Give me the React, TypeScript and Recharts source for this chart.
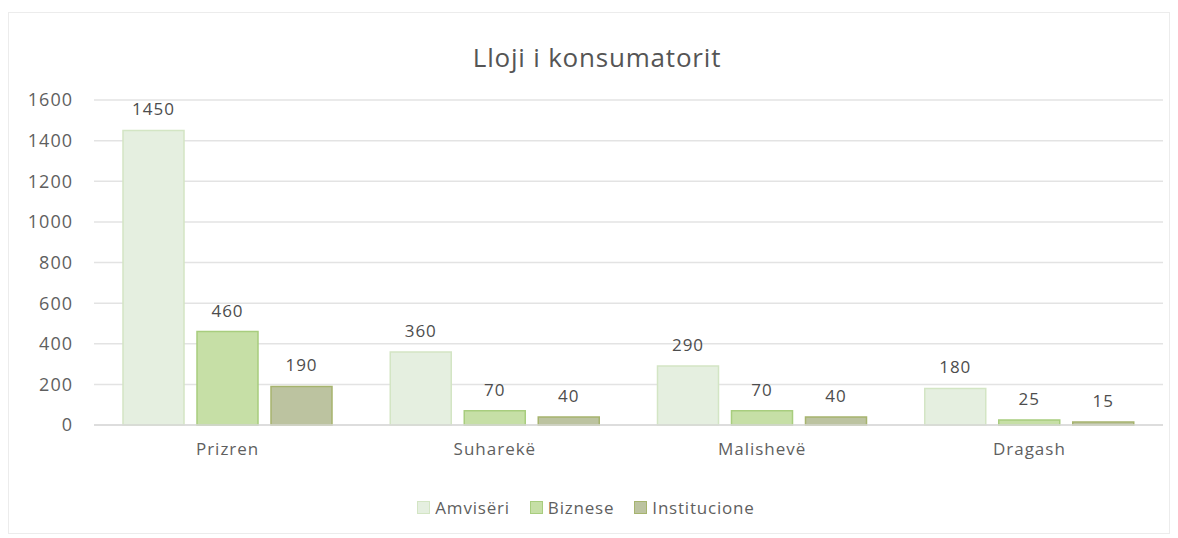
import React from "react";
import { Bar, BarChart, CartesianGrid, LabelList, Legend, XAxis, YAxis } from "recharts";

const cities = ["Prizren", "Suharekë", "Malishevë", "Dragash"];
const amviseri = [1450, 360, 290, 180];
const biznese = [460, 70, 70, 25];
const institucione = [190, 40, 40, 15];
const yTicks = [0, 200, 400, 600, 800, 1000, 1200, 1400, 1600];

const series = [
  { key: "amviseri", name: "Amvisëri", fill: "#e5efe0", stroke: "#d3e5c4" },
  { key: "biznese", name: "Biznese", fill: "#c6dfa6", stroke: "#a8cd7e" },
  { key: "institucione", name: "Institucione", fill: "#bcc3a0", stroke: "#a6b46e" },
];

const data = cities.map((city, i) => ({
  city,
  amviseri: amviseri[i],
  biznese: biznese[i],
  institucione: institucione[i],
}));

const font = "'Open Sans', Lato, sans-serif";
const textColor = "#5f5f5f";
const tickStyle = { fontFamily: font, fontSize: 17, fill: textColor, letterSpacing: 1 };

function LegendRow() {
  return (
    <div style={{ display: "flex", justifyContent: "center", fontFamily: font, fontSize: 17, letterSpacing: 0.8, color: textColor, height: 24, alignItems: "center" }}>
      {series.map((s) => (
        <span key={s.key} style={{ display: "inline-flex", alignItems: "center", margin: "0 10px" }}>
          <span style={{ width: 11, height: 11, background: s.fill, border: `1px solid ${s.stroke}`, marginRight: 5 }} />
          {s.name}
        </span>
      ))}
    </div>
  );
}

export default function App() {
  return (
    <div style={{ position: "relative", width: 1162, height: 522, border: "1px solid #ececec", marginTop: 4, boxSizing: "border-box" }}>
      <div style={{ position: "absolute", top: 26, left: 8, width: "100%", textAlign: "center", fontFamily: font, fontSize: 26, letterSpacing: 0.8, color: "#555" }}>
        Lloji i konsumatorit
      </div>
      <BarChart width={1160} height={520} data={data} margin={{ top: 87, right: 6, bottom: 14, left: 0 }} barSize={61} barGap={13}>
        <CartesianGrid vertical={false} stroke="#e3e3e3" strokeWidth={1.5} />
        <XAxis dataKey="city" height={70} tickLine={false} axisLine={{ stroke: "#d9d9d9", strokeWidth: 1.5 }} tickMargin={12} tick={tickStyle} />
        <YAxis width={85} domain={[0, 1600]} ticks={yTicks} tickLine={false} axisLine={false} tickMargin={15} tick={{ ...tickStyle, fontSize: 18 }} />
        <Legend verticalAlign="bottom" content={() => <LegendRow />} />
        {series.map((s) => (
          <Bar key={s.key} dataKey={s.key} name={s.name} fill={s.fill} stroke={s.stroke} strokeWidth={1.5} isAnimationActive={false}>
            <LabelList dataKey={s.key} position="top" offset={15} style={{ fontFamily: font, fontSize: 17, fill: "#4d4d4d", letterSpacing: 1 }} />
          </Bar>
        ))}
      </BarChart>
    </div>
  );
}
